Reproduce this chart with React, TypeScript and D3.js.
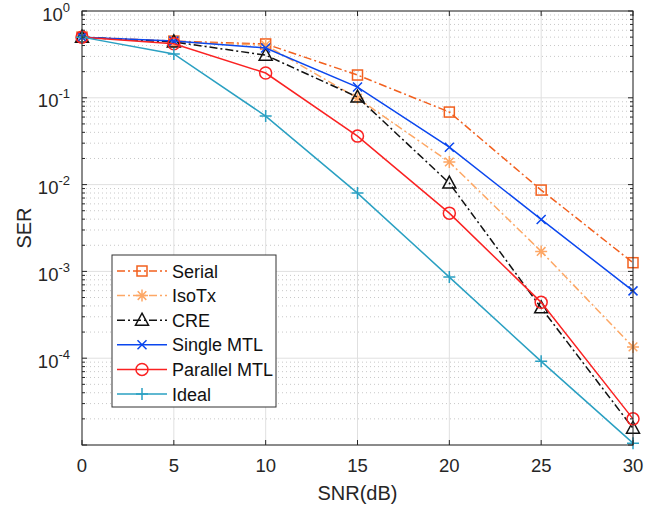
import React from "react";
import * as d3 from "d3";

const snr = [0, 5, 10, 15, 20, 25, 30];
const serial = [0.5, 0.45, 0.417, 0.183, 0.0685, 0.00865, 0.00126];
const isoTx = [0.5, 0.44, 0.405, 0.099, 0.0182, 0.0017, 0.000135];
const cre = [0.5, 0.44, 0.31, 0.102, 0.0104, 0.00038, 0.0000156];
const singleMTL = [0.5, 0.45, 0.375, 0.133, 0.027, 0.00397, 0.000597];
const parallelMTL = [0.5, 0.42, 0.193, 0.0362, 0.00469, 0.00044, 0.0000200];
const ideal = [0.5, 0.32, 0.0616, 0.00798, 0.00086, 0.000092, 0.0000105];

const seriesNames = ["Serial", "IsoTx", "CRE", "Single MTL", "Parallel MTL", "Ideal"];
const xTicks = [0, 5, 10, 15, 20, 25, 30];
const yDecades = [0, -1, -2, -3, -4, -5];

type Series = { name: string; values: number[]; color: string; dash: string | null; marker: string };

const series: Series[] = [
  { name: seriesNames[0], values: serial, color: "#F2601E", dash: "8,3,2,3", marker: "square" },
  { name: seriesNames[1], values: isoTx, color: "#FDA765", dash: "8,3,2,3", marker: "asterisk" },
  { name: seriesNames[2], values: cre, color: "#111111", dash: "8,3,2,3", marker: "triangle" },
  { name: seriesNames[3], values: singleMTL, color: "#0B47EE", dash: null, marker: "x" },
  { name: seriesNames[4], values: parallelMTL, color: "#FA2222", dash: null, marker: "circle" },
  { name: seriesNames[5], values: ideal, color: "#2AA0C2", dash: null, marker: "plus" },
];

const W = 661, H = 508;
const L = 82, R = 633, T = 11, B = 445;
const FONT = "'Liberation Sans', Arial, Helvetica, sans-serif";

function Marker({ type, x, y, color }: { type: string; x: number; y: number; color: string }) {
  const sw = 1.5;
  switch (type) {
    case "square":
      return <rect x={x - 5} y={y - 5} width={10} height={10} fill="none" stroke={color} strokeWidth={sw} />;
    case "circle":
      return <circle cx={x} cy={y} r={6} fill="none" stroke={color} strokeWidth={sw} />;
    case "triangle":
      return <path d={`M${x},${y - 7}L${x + 6.5},${y + 5}L${x - 6.5},${y + 5}Z`} fill="none" stroke={color} strokeWidth={sw} />;
    case "x":
      return <path d={`M${x - 4.5},${y - 4.5}L${x + 4.5},${y + 4.5}M${x - 4.5},${y + 4.5}L${x + 4.5},${y - 4.5}`} stroke={color} strokeWidth={sw} />;
    case "plus":
      return <path d={`M${x - 6},${y}L${x + 6},${y}M${x},${y - 6}L${x},${y + 6}`} stroke={color} strokeWidth={sw} />;
    case "asterisk":
      return (
        <path
          d={`M${x - 6},${y}L${x + 6},${y}M${x},${y - 6}L${x},${y + 6}M${x - 4.3},${y - 4.3}L${x + 4.3},${y + 4.3}M${x - 4.3},${y + 4.3}L${x + 4.3},${y - 4.3}`}
          stroke={color}
          strokeWidth={sw}
        />
      );
    default:
      return null;
  }
}

export default function App() {
  const x = d3.scaleLinear().domain([0, 30]).range([L, R]);
  const y = d3.scaleLog().domain([1e-5, 1]).range([B, T]);
  const line = d3
    .line<number>()
    .x((_, i) => x(snr[i]))
    .y((d) => y(d));

  const minors: number[] = [];
  for (let e = -5; e < 0; e++) for (let k = 2; k <= 9; k++) minors.push(k * Math.pow(10, e));

  const axisColor = "#262626";
  const legX = 112, legY = 255, legW = 164, legH = 152;
  const rowH = 24.6;

  return (
    <svg width={W} height={H} style={{ position: "absolute", left: 0, top: 0, background: "#fff" }} fontFamily={FONT}>
      <rect x={0} y={0} width={W} height={H} fill="#fff" />
      {/* minor grid */}
      {minors.map((v, i) => (
        <line key={"mg" + i} x1={L} x2={R} y1={y(v)} y2={y(v)} stroke="#c8c8c8" strokeWidth={1} strokeDasharray="1,3" />
      ))}
      {/* major grid */}
      {yDecades.map((e) => (
        <line key={"yg" + e} x1={L} x2={R} y1={y(Math.pow(10, e))} y2={y(Math.pow(10, e))} stroke="#e0e0e0" strokeWidth={1} />
      ))}
      {xTicks.map((t) => (
        <line key={"xg" + t} x1={x(t)} x2={x(t)} y1={T} y2={B} stroke="#e0e0e0" strokeWidth={1} />
      ))}
      {/* series */}
      {series.map((s) => (
        <g key={s.name}>
          <path d={line(s.values) || ""} fill="none" stroke={s.color} strokeWidth={1.5} strokeDasharray={s.dash || undefined} />
          {s.values.map((v, i) => (
            <Marker key={i} type={s.marker} x={x(snr[i])} y={y(v)} color={s.color} />
          ))}
        </g>
      ))}
      {/* axes box */}
      <rect x={L} y={T} width={R - L} height={B - T} fill="none" stroke={axisColor} strokeWidth={1} />
      {/* x ticks */}
      {xTicks.map((t) => (
        <g key={"xt" + t}>
          <line x1={x(t)} x2={x(t)} y1={B} y2={B - 5} stroke={axisColor} />
          <line x1={x(t)} x2={x(t)} y1={T} y2={T + 5} stroke={axisColor} />
          <text x={x(t)} y={B + 27} textAnchor="middle" fontSize={18.5} fill={axisColor}>
            {t}
          </text>
        </g>
      ))}
      {/* y ticks */}
      {yDecades.map((e) => (
        <g key={"yt" + e}>
          <line x1={L} x2={L + 5} y1={y(Math.pow(10, e))} y2={y(Math.pow(10, e))} stroke={axisColor} />
          <line x1={R} x2={R - 5} y1={y(Math.pow(10, e))} y2={y(Math.pow(10, e))} stroke={axisColor} />
          {e > -5 && (
            <text x={L - 12} y={y(Math.pow(10, e)) + 9.5} textAnchor="end" fontSize={18.5} fill={axisColor}>
              10
              <tspan dy={-9} fontSize={13}>
                {e}
              </tspan>
            </text>
          )}
        </g>
      ))}
      {minors.map((v, i) => (
        <g key={"ym" + i}>
          <line x1={L} x2={L + 3} y1={y(v)} y2={y(v)} stroke={axisColor} />
          <line x1={R} x2={R - 3} y1={y(v)} y2={y(v)} stroke={axisColor} />
        </g>
      ))}
      {/* axis labels */}
      <text x={(L + R) / 2} y={500} textAnchor="middle" fontSize={20} fill={axisColor}>
        SNR(dB)
      </text>
      <text transform={`translate(31,${(T + B) / 2}) rotate(-90)`} textAnchor="middle" fontSize={20} fill={axisColor}>
        SER
      </text>
      {/* legend */}
      <rect x={legX} y={legY} width={legW} height={legH} fill="#fff" stroke="#333" strokeWidth={1} />
      {series.map((s, i) => {
        const cy = legY + 16 + i * rowH;
        return (
          <g key={"lg" + s.name}>
            <line x1={legX + 5} x2={legX + 55} y1={cy} y2={cy} stroke={s.color} strokeWidth={1.5} strokeDasharray={s.dash || undefined} />
            <Marker type={s.marker} x={legX + 30} y={cy} color={s.color} />
            <text x={legX + 60} y={cy + 6.5} fontSize={18} fill="#111">
              {s.name}
            </text>
          </g>
        );
      })}
    </svg>
  );
}
